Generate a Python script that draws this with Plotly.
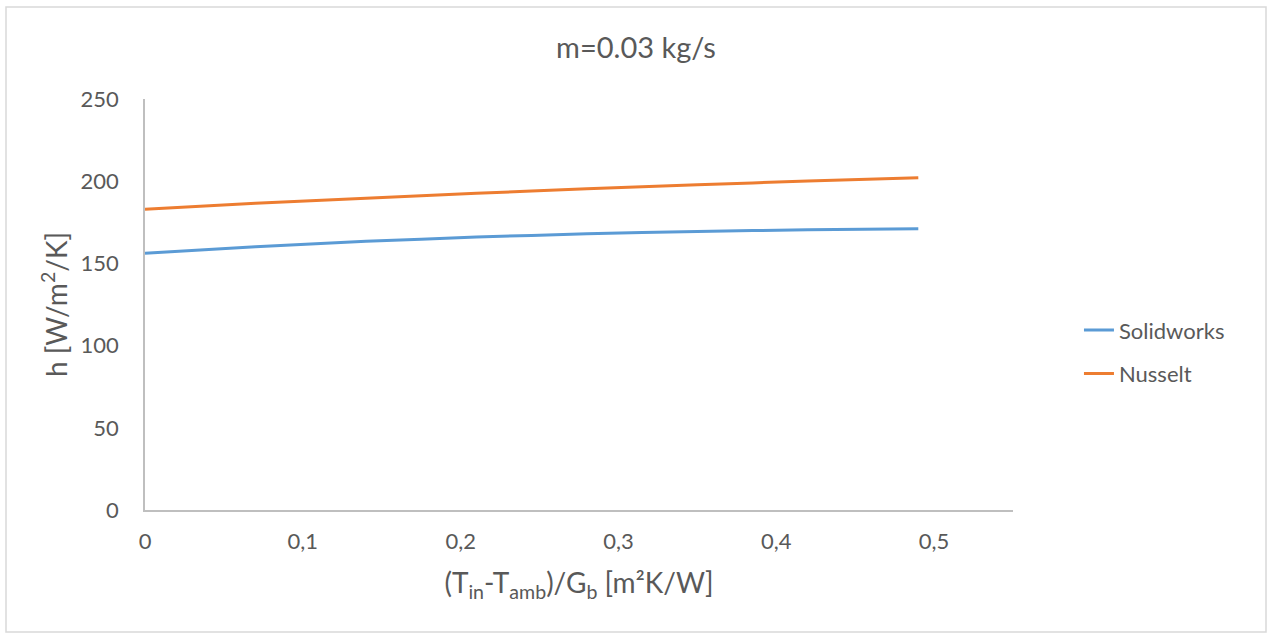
import plotly.graph_objects as go

# Inlet temperature difference per irradiance, (Tin - Tamb)/Gb [m²K/W]
x_vals = [0.0, 0.07, 0.14, 0.21, 0.28, 0.35, 0.42, 0.49]

# Heat transfer coefficient h [W/m²/K]
solidworks = [156.1, 160.2, 163.4, 166.0, 168.0, 169.4, 170.5, 171.1]
nusselt = [183.0, 186.6, 189.6, 192.6, 195.4, 197.8, 200.1, 202.1]

x_ticks = [0, 0.1, 0.2, 0.3, 0.4, 0.5]
x_tick_text = ["0", "0,1", "0,2", "0,3", "0,4", "0,5"]
y_ticks = [0, 50, 100, 150, 200, 250]

FONT = "Lato"
TXT = "#595959"

fig = go.Figure()
fig.add_trace(go.Scatter(
    x=x_vals, y=solidworks, mode="lines", name="Solidworks",
    line=dict(color="#5B9BD5", width=3, shape="spline", smoothing=0.6),
    legendgroup="a",
))
fig.add_trace(go.Scatter(
    x=x_vals, y=nusselt, mode="lines", name="Nusselt",
    line=dict(color="#ED7D31", width=3, shape="spline", smoothing=0.6),
    legendgroup="b",
))

fig.update_layout(
    width=1268, height=633,
    margin=dict(l=145, r=255, t=99, b=123),
    paper_bgcolor="white", plot_bgcolor="white",
    font=dict(family=FONT, color=TXT, size=22),
    title=dict(text="m=0.03 kg/s", x=(636 / 1268), xanchor="center",
               y=1 - 48 / 633, yanchor="middle",
               font=dict(size=29, color=TXT, family=FONT)),
    showlegend=True,
    legend=dict(x=1.076, y=0.384, xanchor="left", yanchor="middle",
                font=dict(size=22, color=TXT, family=FONT),
                tracegroupgap=12, bgcolor="rgba(0,0,0,0)"),
    hovermode=False,
    shapes=[dict(type="rect", xref="paper", yref="paper",
                 x0=(6 - 145) / 868, x1=(1266 - 145) / 868,
                 y0=(510 - 632) / 411, y1=(510 - 7) / 411,
                 line=dict(color="#d9d9d9", width=1.5), layer="below")],
)

fig.update_xaxes(
    range=[0, 0.55], tickvals=x_ticks, ticktext=x_tick_text,
    showgrid=False, zeroline=False, showline=True,
    linecolor="#bfbfbf", linewidth=1.5, ticks="", ticklabelstandoff=11,
    tickfont=dict(size=22, color=TXT),
    title=dict(text="(T<sub>in</sub>-T<sub>amb</sub>)/G<sub>b</sub> [m²K/W]",
               font=dict(size=28, color=TXT), standoff=20),
)
fig.update_yaxes(
    range=[0, 250], tickvals=y_ticks,
    showgrid=False, zeroline=False, showline=True,
    linecolor="#bfbfbf", linewidth=1.5, ticks="", ticklabelstandoff=20,
    tickfont=dict(size=22, color=TXT),
    title=dict(text="h [W/m<sup>2</sup>/K]", font=dict(size=28, color=TXT),
               standoff=5),
)

fig.write_html("out.html")
